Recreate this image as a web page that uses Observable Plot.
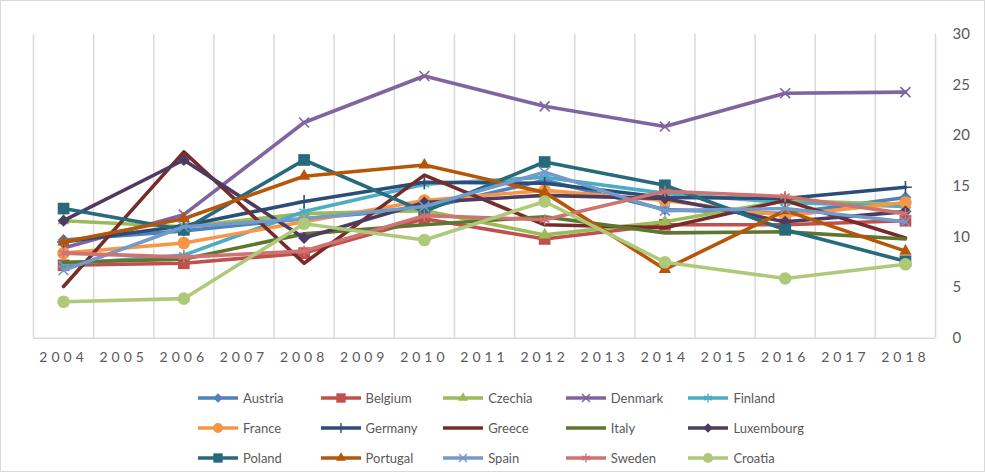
<!DOCTYPE html>
<html>
<head>
<meta charset="utf-8">
<script src="https://cdn.jsdelivr.net/npm/d3@7"></script>
<script src="https://cdn.jsdelivr.net/npm/@observablehq/plot@0.6"></script>
<style>
  body { margin: 0; background: #fff; font-family: Lato, "Liberation Sans", sans-serif; }
  #frame { position: relative; width: 983px; height: 470px; border: 1px solid #d9d9d9; overflow: hidden; background: #fff; }
  #chart { position: absolute; left: -1px; top: -1px; }
  #chart svg { overflow: visible; }
  #chart g[aria-label="x-axis tick label"] text { letter-spacing: 4px; }
  .item { position: absolute; display: flex; align-items: center; font-size: 13px; color: #595959; white-space: nowrap; }
  .item svg { display: block; margin-right: 4px; }
</style>
</head>
<body>
<div id="frame">
  <div id="chart"></div>
  <div id="legend"></div>
</div>
<script>
// Years shown on the category axis (every year) and years with observations
const yearLabels = [2004, 2005, 2006, 2007, 2008, 2009, 2010, 2011, 2012, 2013, 2014, 2015, 2016, 2017, 2018];
const years = [2004, 2006, 2008, 2010, 2012, 2014, 2016, 2018];
const yTicks = [0, 5, 10, 15, 20, 25, 30];

const countries = ["Austria", "Belgium", "Czechia", "Denmark", "Finland",
                   "France", "Germany", "Greece", "Italy", "Luxembourg",
                   "Poland", "Portugal", "Spain", "Sweden", "Croatia"];

// One value per observed year, per country
const austria    = [9.7, 10.6, 11.8, 12.8, 15.6, 12.7, 12.3, 13.9];
const belgium    = [7.2, 7.4, 8.4, 11.8, 9.8, 11.2, 11.2, 11.6];
const czechia    = [11.6, 11.0, 12.3, 12.6, 10.2, 11.5, 13.6, 13.2];
const denmark    = [8.9, 12.2, 21.3, 25.9, 22.9, 20.9, 24.2, 24.3];
const finland    = [7.3, 8.2, 12.5, 15.2, 15.9, 14.3, 13.4, 13.0];
const france     = [8.4, 9.4, 11.5, 13.6, 14.6, 13.6, 12.1, 13.4];
const germany    = [9.5, 11.1, 13.5, 15.4, 15.3, 13.9, 13.8, 14.9];
const greece     = [5.1, 18.4, 7.4, 16.1, 11.2, 10.9, 13.6, 9.9];
const italy      = [7.5, 7.8, 10.3, 11.2, 12.0, 10.4, 10.5, 9.8];
const luxembourg = [11.6, 17.6, 9.9, 13.4, 14.1, 13.8, 11.5, 12.5];
const poland     = [12.8, 10.7, 17.6, 12.5, 17.4, 15.1, 10.7, 7.6];
const portugal   = [9.5, 11.8, 16.0, 17.1, 14.4, 6.8, 12.6, 8.6];
const spain      = [6.7, 11.0, 11.8, 13.0, 16.4, 12.6, 12.8, 11.5];
const sweden     = [8.4, 8.0, 8.6, 12.1, 11.7, 14.5, 14.0, 12.3];
const croatia    = [3.6, 3.9, 11.3, 9.7, 13.5, 7.5, 5.9, 7.3];

const seriesValues = [austria, belgium, czechia, denmark, finland,
                      france, germany, greece, italy, luxembourg,
                      poland, portugal, spain, sweden, croatia];

// Styling per series: colour, marker symbol and marker radius
const colors = ["#4F81BD", "#C0504D", "#9BBB59", "#8064A2", "#4BACC6",
                "#F79646", "#2C4D75", "#772C2A", "#5F7530", "#4D3B62",
                "#276A7C", "#B65708", "#729ACA", "#CD7371", "#AFC97A"];
const symbols = ["diamond2", "square", "triangle", "times", "asterisk",
                 "circle", "plus", null, null, "diamond2",
                 "square", "triangle", "times", "asterisk", "circle"];
const radius = { diamond2: 5.4, square: 6.6, triangle: 4.6, times: 4.6, asterisk: 5.2, circle: 6.3, plus: 4.2 };
const strokeSymbols = new Set(["times", "asterisk", "plus"]);

// Long-format table for Plot
const rows = countries.flatMap((c, i) =>
  years.map((yr, j) => ({ country: c, year: yr, value: seriesValues[i][j] })));

// Category boundaries for the vertical grid
const bounds = [...yearLabels.map(y => y - 0.5), yearLabels[yearLabels.length - 1] + 0.5];

const textColor = "#595959";
const gridColor = "#d9d9d9";

const marks = [
  Plot.ruleX(bounds, { x: d => d, y1: 0, y2: 30, stroke: gridColor, strokeWidth: 1.5 }),
  Plot.ruleY([0], { stroke: gridColor, strokeWidth: 1.5 }),
  Plot.axisX(yearLabels, { label: null, tickSize: 0, tickPadding: 14, fontSize: 14, fill: textColor, tickFormat: d => String(d) }),
  Plot.axisY(yTicks, { label: null, anchor: "right", tickSize: 0, tickPadding: 17, fontSize: 15, fill: textColor, textAnchor: "start" })
];

countries.forEach((c, i) => {
  const data = rows.filter(r => r.country === c);
  marks.push(Plot.line(data, { x: "year", y: "value", stroke: colors[i], strokeWidth: 3.6, strokeLinejoin: "round", strokeLinecap: "round" }));
  const s = symbols[i];
  if (s) {
    const isStroke = strokeSymbols.has(s);
    marks.push(Plot.dot(data, {
      x: "year", y: "value", symbol: () => s, r: radius[s],
      fill: isStroke ? "none" : colors[i],
      stroke: isStroke ? colors[i] : "none",
      strokeWidth: isStroke ? 1.6 : 0
    }));
  }
});

const chart = Plot.plot({
  width: 985,
  height: 372,
  marginLeft: 33,
  marginRight: 49,
  marginTop: 34,
  marginBottom: 34,
  style: { fontFamily: "Lato, 'Liberation Sans', sans-serif", background: "transparent" },
  x: { type: "linear", domain: [bounds[0], bounds[bounds.length - 1]], axis: null, label: null },
  y: { domain: [0, 30], axis: null, label: null },
  symbol: { type: "identity" },
  marks
});
document.getElementById("chart").appendChild(chart);

// Legend: 5 columns x 3 rows below the plot
const symbolTypes = {
  diamond2: d3.symbolDiamond2, square: d3.symbolSquare, triangle: d3.symbolTriangle,
  times: d3.symbolTimes, asterisk: d3.symbolAsterisk, circle: d3.symbolCircle, plus: d3.symbolPlus
};
const legend = document.getElementById("legend");
countries.forEach((c, i) => {
  const col = i % 5, row = Math.floor(i / 5);
  const item = document.createElement("div");
  item.className = "item";
  item.style.left = (196 + col * 122.6) + "px";
  item.style.top = (388 + row * 30) + "px";
  const svg = d3.create("svg").attr("width", 42).attr("height", 18);
  svg.append("line").attr("x1", 1).attr("x2", 41).attr("y1", 9).attr("y2", 9)
    .attr("stroke", colors[i]).attr("stroke-width", 3.6);
  const s = symbols[i];
  if (s) {
    const r = radius[s] * 0.8;
    const isStroke = strokeSymbols.has(s);
    svg.append("path")
      .attr("transform", "translate(21,9)")
      .attr("d", d3.symbol(symbolTypes[s], Math.PI * r * r)())
      .attr("fill", isStroke ? "none" : colors[i])
      .attr("stroke", isStroke ? colors[i] : "none")
      .attr("stroke-width", isStroke ? 1.4 : 0);
  }
  item.appendChild(svg.node());
  const label = document.createElement("span");
  label.textContent = c;
  item.appendChild(label);
  legend.appendChild(item);
});
</script>
</body>
</html>
